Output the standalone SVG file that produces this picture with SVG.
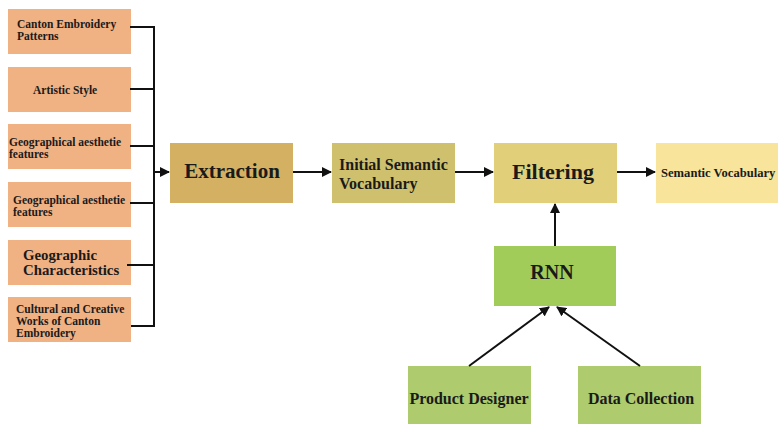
<svg xmlns="http://www.w3.org/2000/svg" width="778" height="424" viewBox="0 0 778 424">
<defs>
<marker id="ah" markerWidth="10" markerHeight="10" refX="9" refY="5" orient="auto" markerUnits="userSpaceOnUse">
<path d="M0,0 L10,5 L0,10 Z" fill="#111"/>
</marker>
<style>
text{font-family:"Liberation Serif","DejaVu Serif",serif;font-weight:bold;fill:#1a1a1a}
.src{fill:#F0B183}
.s{font-size:11.5px}
.ln{stroke:#111;stroke-width:2;fill:none}
</style>
</defs>
<rect width="778" height="424" fill="#fff"/>
<g id="n1"><rect class="src" x="8" y="9" width="123" height="45"/><text class="s" x="17" y="28">Canton Embroidery</text><text class="s" x="17" y="40">Patterns</text></g>
<g id="n2"><rect class="src" x="8" y="67" width="123" height="45"/><text class="s" x="33" y="94">Artistic Style</text></g>
<g id="n3"><rect class="src" x="8" y="124" width="123" height="45"/><text class="s" x="9" y="146">Geographical aesthetie</text><text class="s" x="9" y="158">features</text></g>
<g id="n4"><rect class="src" x="8" y="182" width="123" height="45"/><text class="s" x="13" y="204">Geographical aesthetie</text><text class="s" x="13" y="216">features</text></g>
<g id="n5"><rect class="src" x="8" y="240" width="123" height="45"/><text x="23" y="260" font-size="14.8">Geographic</text><text x="23" y="275" font-size="14.8">Characteristics</text></g>
<g id="n6"><rect class="src" x="8" y="297" width="123" height="45"/><text class="s" x="16" y="313">Cultural and Creative</text><text class="s" x="16" y="325">Works of Canton</text><text class="s" x="16" y="337">Embroidery</text></g>
<g id="extraction"><rect x="170" y="143" width="123" height="60" fill="#D4B062"/><text x="232" y="178" font-size="21" text-anchor="middle">Extraction</text></g>
<g id="initial"><rect x="332" y="143" width="123" height="60" fill="#CFC06E"/><text x="339" y="170" font-size="16">Initial Semantic</text><text x="339" y="189" font-size="16">Vocabulary</text></g>
<g id="filtering"><rect x="494" y="143" width="123" height="60" fill="#E2CF7A"/><text x="553" y="179" font-size="22" text-anchor="middle">Filtering</text></g>
<g id="semantic"><rect x="656" y="143" width="122" height="60" fill="#F8E49A"/><text x="661" y="177" font-size="12.6">Semantic Vocabulary</text></g>
<g id="rnn"><rect x="494" y="246" width="122" height="60" fill="#A2CC5A"/><text x="552" y="279" font-size="20" text-anchor="middle">RNN</text></g>
<g id="designer"><rect x="408" y="366" width="123" height="60" fill="#AECB6D"/><text x="469" y="404" font-size="16" text-anchor="middle">Product Designer</text></g>
<g id="data"><rect x="578" y="366" width="123" height="60" fill="#AECB6D"/><text x="641" y="404" font-size="16" text-anchor="middle">Data Collection</text></g>
<g id="connectors">
<path class="ln" d="M130,27 H154 V326 H131 M130,89 H154 M130,146 H154 M130,203 H154 M127,265 H154"/>
<path class="ln" d="M154,172 H169" marker-end="url(#ah)"/>
<path class="ln" d="M293,172 H331" marker-end="url(#ah)"/>
<path class="ln" d="M455,172 H493" marker-end="url(#ah)"/>
<path class="ln" d="M617,172 H655" marker-end="url(#ah)"/>
<path class="ln" d="M555,246 V204" marker-end="url(#ah)"/>
<path class="ln" d="M469,366 L549,307" marker-end="url(#ah)"/>
<path class="ln" d="M640,366 L557,307" marker-end="url(#ah)"/>
</g>
</svg>
